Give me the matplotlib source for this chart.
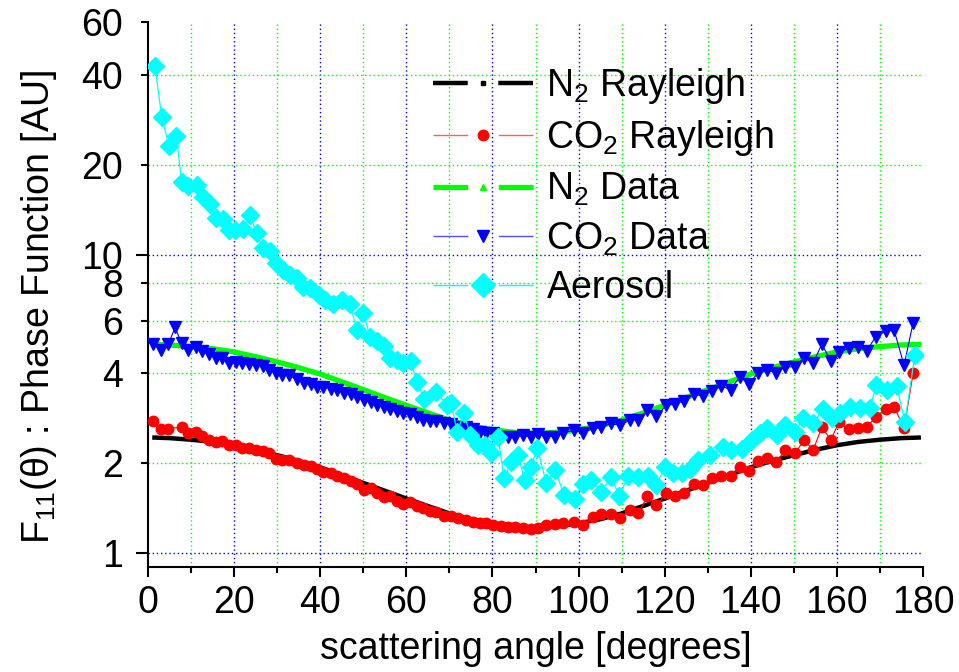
import numpy as np
import matplotlib
matplotlib.use("Agg")
import matplotlib.pyplot as plt
from matplotlib.lines import Line2D
from matplotlib.ticker import MultipleLocator, FixedLocator, FuncFormatter

plt.rcParams['font.family'] = ['Liberation Sans', 'DejaVu Sans']
plt.rcParams['mathtext.default'] = 'regular'
plt.rcParams['lines.scale_dashes'] = False

# smooth curves (N2 theory and N2 measurement)
ray_angle = [1.5, 5, 10, 15, 20, 25, 30, 35, 40, 45, 50, 55, 60, 65, 70, 75, 80, 85, 90,
             95, 100, 105, 110, 115, 120, 125, 130, 135, 140, 145, 150, 155, 160, 165, 170, 175, 179]
n2_rayleigh = [2.44, 2.43, 2.40, 2.36, 2.30, 2.22, 2.13, 2.04, 1.94, 1.83, 1.72, 1.62, 1.525, 1.44,
               1.36, 1.30, 1.26, 1.23, 1.22, 1.23, 1.26, 1.30, 1.36, 1.44, 1.525, 1.62, 1.72, 1.83,
               1.94, 2.04, 2.13, 2.22, 2.30, 2.36, 2.40, 2.43, 2.44]
n2_data = [5.00, 4.98, 4.92, 4.84, 4.72, 4.55, 4.37, 4.18, 3.98, 3.75, 3.53, 3.32, 3.13, 2.95,
           2.79, 2.67, 2.59, 2.54, 2.52, 2.54, 2.59, 2.67, 2.79, 2.95, 3.13, 3.32, 3.53, 3.75,
           3.98, 4.18, 4.37, 4.55, 4.72, 4.84, 4.92, 4.98, 5.00]

# CO2 points (shared angles)
angle = [1.2, 3.0, 4.7, 6.3, 7.8, 9.4, 11.1, 12.6, 14.2, 15.7,
         17.3, 18.8, 20.4, 21.9, 23.5, 25.0, 26.6, 28.1, 29.7, 31.2,
         32.8, 34.5, 36.2, 37.8, 39.2, 40.7, 42.4, 43.9, 45.5, 47.1,
         48.6, 50.2, 51.7, 53.1, 54.7, 56.2, 57.8, 59.3, 60.8, 62.4,
         63.9, 65.4, 66.9, 68.7, 70.4, 72.1, 73.9, 75.5, 77.0, 78.6,
         80.1, 81.9, 83.6, 85.3, 87.1, 88.9, 90.6, 92.5, 94.5, 96.4,
         98.9, 101.0, 103.4, 105.3, 107.5, 109.6, 111.9, 113.8, 116.0, 118.1,
         120.4, 122.5, 124.6, 126.8, 128.9, 131.0, 133.2, 135.3, 137.4, 139.6,
         141.7, 143.8, 145.9, 148.0, 150.2, 152.4, 154.5, 156.5, 158.6, 160.5,
         162.7, 164.8, 166.9, 169.0, 171.3, 173.3, 175.6, 177.7]
co2_rayleigh = [2.77, 2.60, 2.61, np.nan, 2.65, 2.53, 2.55, 2.47, 2.40, 2.36,
                2.38, 2.31, 2.30, 2.25, 2.26, 2.22, 2.20, 2.17, 2.07, 2.06,
                2.06, 2.01, 1.97, 1.96, 1.91, 1.87, 1.85, 1.81, 1.78, 1.75,
                1.71, 1.63, 1.66, 1.59, 1.54, 1.56, 1.50, 1.46, 1.49, 1.44,
                1.42, 1.39, 1.37, 1.33, 1.33, 1.31, 1.29, 1.27, 1.26, 1.26,
                1.24, 1.23, 1.225, 1.225, 1.22, 1.21, 1.22, 1.24, 1.25, 1.26,
                1.27, 1.24, 1.32, 1.35, 1.35, 1.31, 1.40, 1.36, 1.55, 1.45,
                1.59, 1.56, 1.59, 1.70, 1.69, 1.78, 1.82, 1.81, 1.94, 1.89,
                2.04, 2.09, 2.02, 2.21, 2.16, 2.39, 2.22, 2.64, 2.40, 2.75,
                2.60, 2.63, 2.65, 2.85, 3.03, 3.09, 2.62, 4.00]
co2_data = [5.01, 4.78, 5.01, 5.70, 5.04, 4.78, 4.89, 4.76, 4.64, 4.49,
            4.51, 4.35, 4.37, 4.32, 4.29, 4.26, 4.23, 4.12, 4.00, 3.95,
            3.95, 3.82, 3.72, 3.68, 3.61, 3.61, 3.56, 3.52, 3.44, 3.41,
            3.34, 3.25, 3.21, 3.13, 3.09, 3.03, 3.00, 2.95, 2.92, 2.86,
            2.80, 2.77, 2.77, 2.73, 2.70, 2.65, 2.64, 2.60, 2.55, 2.52,
            2.52, 2.46, 2.46, 2.46, 2.48, 2.46, 2.50, 2.46, 2.46, 2.53,
            2.58, 2.53, 2.62, 2.64, 2.72, 2.68, 2.79, 2.80, 3.01, 2.88,
            3.13, 3.17, 3.24, 3.41, 3.36, 3.50, 3.63, 3.53, 3.89, 3.70,
            4.02, 4.10, 4.02, 4.21, 4.21, 4.52, 4.34, 5.01, 4.40, 4.70,
            4.85, 4.91, 4.76, 5.30, 5.54, 5.58, 4.26, 5.91]

# aerosol
aer_angle = [1.6, 3.2, 4.9, 6.6, 7.8, 9.4, 11.3, 12.8, 14.4, 15.9,
             17.5, 18.7, 20.2, 22.1, 23.7, 25.2, 26.6, 28.3, 29.8, 31.3,
             33.0, 34.5, 36.1, 37.6, 39.6, 41.1, 43.0, 45.0, 46.9, 48.5,
             50.0, 51.6, 53.2, 54.7, 56.2, 57.8, 59.3, 61.0, 62.4, 64.2,
             66.9, 69.5, 70.4, 71.8, 73.4, 74.9, 76.6, 78.2, 79.6, 81.3,
             82.7, 84.4, 85.9, 87.5, 89.0, 90.4, 92.5, 94.6, 96.6, 99.1,
             101.0, 103.0, 105.3, 107.5, 109.5, 111.5, 113.8, 116.1, 118.0, 120.1,
             121.9, 124.0, 125.8, 127.7, 130.5, 133.6, 135.5, 137.9, 140.2, 142.1,
             143.7, 146.0, 148.0, 150.3, 152.2, 154.5, 156.8, 158.8, 160.7, 163.0,
             165.4, 167.7, 169.2, 171.6, 173.9, 175.8, 178.1]
aerosol = [42.7, 28.8, 23.0, 25.0, 17.5, 16.9, 17.1, 15.6, 14.8, 13.2,
           13.1, 12.1, 12.1, 12.2, 13.6, 11.8, 10.5, 10.3, 9.34, 8.87,
           8.54, 8.33, 7.80, 7.70, 7.31, 7.04, 6.85, 7.07, 6.85, 5.58,
           6.38, 5.30, 5.15, 4.95, 4.50, 4.45, 4.35, 4.40, 3.75, 3.28,
           3.47, 3.13, 3.19, 2.55, 2.94, 2.48, 2.30, 2.30, 2.17, 2.46,
           1.78, 2.02, 2.13, 1.76, 1.95, 2.26, 1.72, 1.90, 1.57, 1.52,
           1.71, 1.76, 1.60, 1.80, 1.56, 1.81, 1.80, 1.81, 1.69, 1.95,
           1.85, 1.85, 1.92, 2.05, 2.13, 2.27, 2.21, 2.24, 2.39, 2.52,
           2.62, 2.48, 2.68, 2.55, 2.83, 2.72, 3.05, 2.83, 2.94, 3.10,
           3.07, 3.07, 3.66, 3.53, 3.62, 2.75, 4.60]

labels = ['N$_2$ Rayleigh', 'CO$_2$ Rayleigh', 'N$_2$ Data', 'CO$_2$ Data', 'Aerosol']

FS = 27
BLUE, GREEN, RED, CYAN = '#0000ff', '#00ff00', '#ff0000', '#00ffff'

fig = plt.figure(figsize=(9.59, 6.72), dpi=100)
ax = fig.add_axes([148 / 959, 1 - 567 / 672, 775 / 959, 545 / 672])

# dotted grid, drawn by hand so nothing sits on the axes edges
for v in range(20, 180, 20):
    ax.axvline(v, color=BLUE, ls=(0, (1, 2)), lw=1, zorder=0.5)
for v in range(10, 180, 20):
    ax.axvline(v, color=GREEN, ls=(0, (1, 2)), lw=1, zorder=0.5)
for v in [1, 10]:
    ax.axhline(v, color=BLUE, ls=(0, (1, 2)), lw=1, zorder=0.5)
for v in [2, 4, 6, 8, 20, 40]:
    ax.axhline(v, color=GREEN, ls=(0, (1, 2)), lw=1, zorder=0.5)

ax.plot(ray_angle, n2_rayleigh, color='k', lw=3.2, zorder=2)
ang = np.array(angle)
red = np.array(co2_rayleigh)
ok = ~np.isnan(red)
ax.plot(ang[ok], red[ok], color=RED, lw=0.8, marker='o', ms=7.5, mec=RED, mfc=RED, zorder=3)
ax.plot(ray_angle, n2_data, color=GREEN, lw=3.8, zorder=4)
ax.plot(angle, co2_data, color=BLUE, lw=0.8, marker='v', ms=8, mec=BLUE, mfc=BLUE, zorder=5)
ax.plot(aer_angle, aerosol, color=CYAN, lw=0.9, marker='D', ms=9, mec=CYAN, mfc=CYAN, zorder=6)

ax.set_xlim(0, 180)
ax.set_yscale('log')
ax.set_ylim(0.9, 60)

ax.xaxis.set_major_locator(MultipleLocator(20))
ax.xaxis.set_minor_locator(MultipleLocator(10))
ax.yaxis.set_major_locator(FixedLocator([1, 10]))
ax.yaxis.set_minor_locator(FixedLocator([2, 4, 6, 8, 20, 40, 60]))
fmt = FuncFormatter(lambda v, _: f'{v:g}')
ax.yaxis.set_major_formatter(fmt)
ax.yaxis.set_minor_formatter(fmt)

ax.tick_params(axis='both', which='both', direction='out', width=1.5, labelsize=FS)
ax.tick_params(axis='x', which='major', length=7, pad=6)
ax.tick_params(axis='x', which='minor', length=4.5)
ax.tick_params(axis='y', which='major', length=9, pad=9)
ax.tick_params(axis='y', which='minor', length=5, pad=13)

for s in ['top', 'right']:
    ax.spines[s].set_visible(False)
for s in ['left', 'bottom']:
    ax.spines[s].set_linewidth(1.5)

ax.set_xlabel('scattering angle [degrees]', fontsize=FS)
ax.xaxis.set_label_coords(0.5, -0.117)
ax.set_ylabel('F$_{11}$(θ) : Phase Function [AU]', fontsize=FS)
ax.yaxis.set_label_coords(-0.115, 0.477)

# legend: line - symbol - line, as in the original
dash = (25, 22)
handles = [
    Line2D([], [], color='k', lw=3.2, dashes=dash, dash_capstyle='butt', marker='s', ms=3, mfc='k', mec='k'),
    Line2D([], [], color='#ff6060', lw=1, dashes=dash, marker='o', ms=7.5, mfc=RED, mec=RED),
    Line2D([], [], color=GREEN, lw=3.8, dashes=dash, dash_capstyle='butt', marker='^', ms=5, mfc=GREEN, mec=GREEN),
    Line2D([], [], color='#5050ff', lw=1, dashes=dash, marker='v', ms=8, mfc=BLUE, mec=BLUE),
    Line2D([], [], color=CYAN, lw=1, dashes=dash, marker='D', ms=12, mfc=CYAN, mec=CYAN),
]
ax.legend(handles, labels, loc='upper left', bbox_to_anchor=((433 - 148) / 775, 1 - (66 - 22) / 545),
          frameon=False, fontsize=FS, handlelength=72 / FS, handletextpad=0.36,
          labelspacing=0.33, borderpad=0, borderaxespad=0, numpoints=1)

fig.savefig('out.png', dpi=100)
